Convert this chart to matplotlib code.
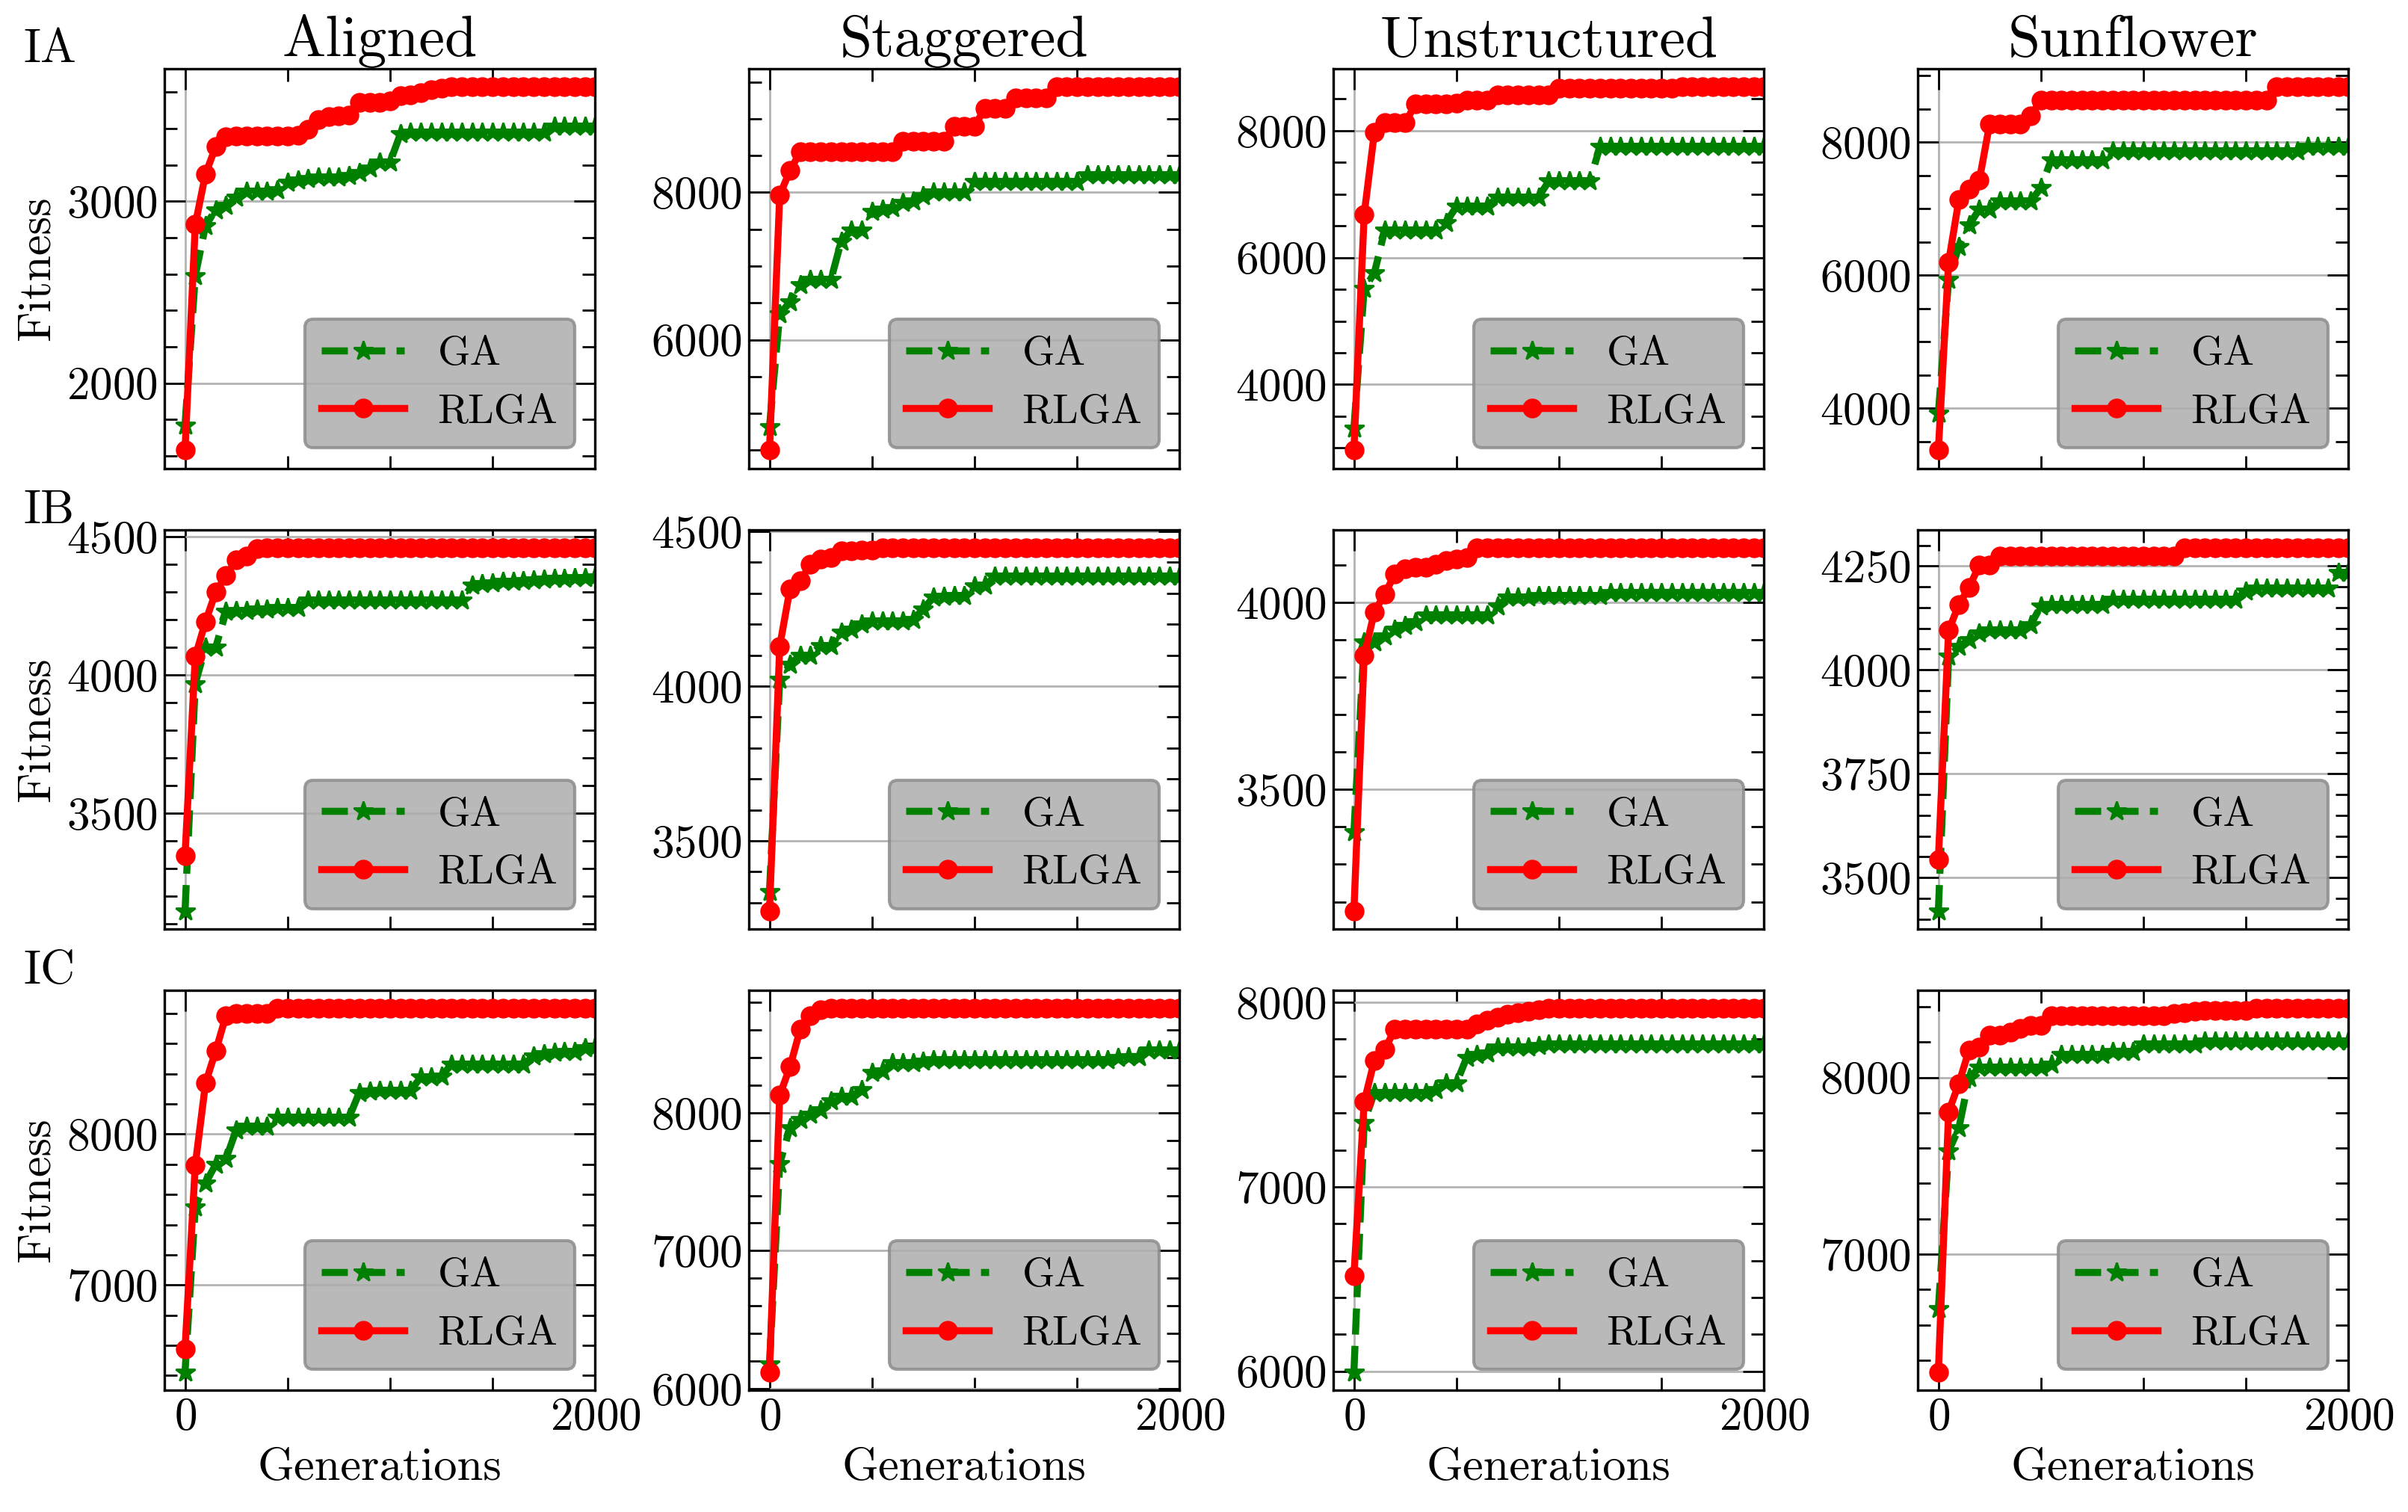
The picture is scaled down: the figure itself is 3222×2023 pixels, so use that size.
import matplotlib
matplotlib.use('Agg')
import matplotlib.pyplot as plt
from matplotlib.ticker import MultipleLocator, MaxNLocator, AutoMinorLocator
import numpy as np

# Computer Modern look (matplotlib ships cmr10)
plt.rcParams['font.family'] = 'serif'
plt.rcParams['font.serif'] = ['cmr10']
plt.rcParams['mathtext.fontset'] = 'cm'
plt.rcParams['axes.formatter.use_mathtext'] = True

# generations at which values were read (one marker every 50 generations)
gens = np.arange(0, 2001, 50)

rows = ['IA', 'IB', 'IC']
cols = ['Aligned', 'Staggered', 'Unstructured', 'Sunflower']

# ---- IA ----
ia_aligned_ga = [1770, 2590, 2867, 2952, 2975, 3020, 3054, 3054, 3054, 3063, 3105, 3114, 3126, 3131,
                 3131, 3131, 3140, 3156, 3182, 3216, 3216, 3369, 3378, 3378, 3378, 3378, 3378, 3378,
                 3378, 3378, 3378, 3378, 3378, 3378, 3378, 3378, 3411, 3411, 3411, 3411, 3411]
ia_aligned_rlga = [1631, 2872, 3150, 3300, 3355, 3360, 3360, 3360, 3360, 3360, 3360, 3362, 3395, 3450,
                   3465, 3470, 3475, 3545, 3545, 3545, 3550, 3580, 3585, 3595, 3615, 3620, 3628, 3628,
                   3628, 3628, 3628, 3628, 3628, 3628, 3628, 3628, 3628, 3628, 3628, 3628, 3628]
ia_staggered_ga = [4818, 6349, 6512, 6746, 6818, 6818, 6818, 7340, 7485, 7485, 7737, 7773, 7791, 7863,
                   7881, 7953, 8000, 8000, 8000, 8000, 8151, 8151, 8151, 8151, 8151, 8151, 8151, 8151,
                   8151, 8151, 8151, 8241, 8241, 8241, 8241, 8241, 8241, 8241, 8241, 8241, 8241]
ia_staggered_rlga = [4500, 7964, 8296, 8548, 8548, 8548, 8548, 8548, 8548, 8548, 8548, 8548, 8548, 8692,
                     8692, 8692, 8692, 8692, 8897, 8897, 8897, 9142, 9142, 9142, 9287, 9287, 9287, 9287,
                     9431, 9431, 9431, 9431, 9431, 9431, 9431, 9431, 9431, 9431, 9431, 9431, 9431]
ia_unstructured_ga = [3309, 5508, 5759, 6430, 6430, 6430, 6430, 6430, 6430, 6555, 6806, 6806, 6806, 6806,
                      6953, 6953, 6953, 6953, 6953, 7204, 7204, 7204, 7204, 7204, 7749, 7749, 7749, 7749,
                      7749, 7749, 7749, 7749, 7749, 7749, 7749, 7749, 7749, 7749, 7749, 7749, 7749]
ia_unstructured_rlga = [2962, 6681, 7979, 8126, 8126, 8126, 8419, 8419, 8419, 8419, 8440, 8482, 8482, 8482,
                        8565, 8565, 8565, 8565, 8565, 8565, 8670, 8670, 8670, 8670, 8670, 8670, 8670, 8670,
                        8670, 8670, 8670, 8670, 8690, 8690, 8690, 8690, 8690, 8690, 8690, 8690, 8690]
ia_sunflower_ga = [3920, 5936, 6435, 6754, 6994, 6994, 7114, 7114, 7114, 7114, 7313, 7733, 7733, 7733,
                   7733, 7733, 7733, 7872, 7872, 7872, 7872, 7872, 7872, 7872, 7872, 7872, 7872, 7872,
                   7872, 7872, 7872, 7872, 7872, 7872, 7872, 7872, 7932, 7932, 7932, 7932, 7932]
ia_sunflower_rlga = [3369, 6196, 7134, 7293, 7433, 8271, 8271, 8271, 8271, 8391, 8631, 8631, 8631, 8631,
                     8631, 8631, 8631, 8631, 8631, 8631, 8631, 8631, 8631, 8631, 8631, 8631, 8631, 8631,
                     8631, 8631, 8631, 8631, 8631, 8830, 8830, 8830, 8830, 8830, 8830, 8830, 8830]

# ---- IB ----
ib_aligned_ga = [3147, 3970, 4102, 4102, 4230, 4235, 4235, 4240, 4240, 4245, 4245, 4245, 4271, 4271,
                 4271, 4271, 4271, 4271, 4271, 4271, 4271, 4271, 4271, 4271, 4271, 4271, 4271, 4271,
                 4326, 4330, 4333, 4338, 4338, 4343, 4345, 4348, 4350, 4351, 4352, 4353, 4355]
ib_aligned_rlga = [3348, 4068, 4194, 4302, 4360, 4418, 4431, 4458, 4461, 4461, 4461, 4461, 4461, 4461,
                   4461, 4461, 4461, 4461, 4461, 4461, 4461, 4461, 4461, 4461, 4461, 4461, 4461, 4461,
                   4461, 4461, 4461, 4461, 4461, 4461, 4461, 4461, 4461, 4461, 4461, 4461, 4461]
ib_staggered_ga = [3336, 4022, 4070, 4100, 4100, 4131, 4131, 4175, 4183, 4201, 4210, 4210, 4210, 4210,
                   4215, 4249, 4288, 4290, 4293, 4293, 4323, 4325, 4354, 4354, 4354, 4354, 4354, 4354,
                   4354, 4354, 4354, 4354, 4354, 4354, 4354, 4354, 4354, 4354, 4354, 4354, 4354]
ib_staggered_rlga = [3273, 4129, 4314, 4341, 4393, 4410, 4415, 4437, 4437, 4439, 4440, 4447, 4447, 4447,
                     4447, 4447, 4447, 4447, 4447, 4447, 4447, 4447, 4447, 4447, 4447, 4447, 4447, 4447,
                     4447, 4447, 4447, 4447, 4447, 4447, 4447, 4447, 4447, 4447, 4447, 4447, 4447]
ib_unstructured_ga = [3386, 3895, 3895, 3910, 3928, 3939, 3949, 3967, 3967, 3967, 3967, 3967, 3967, 3967,
                      3990, 4014, 4014, 4014, 4018, 4018, 4018, 4018, 4018, 4018, 4018, 4027, 4027, 4027,
                      4027, 4027, 4027, 4027, 4027, 4027, 4027, 4027, 4027, 4027, 4027, 4027, 4027]
ib_unstructured_rlga = [3175, 3858, 3975, 4022, 4076, 4090, 4094, 4094, 4101, 4112, 4116, 4119, 4146, 4146,
                        4146, 4146, 4146, 4146, 4146, 4146, 4146, 4146, 4146, 4146, 4146, 4146, 4146, 4146,
                        4146, 4146, 4146, 4146, 4146, 4146, 4146, 4146, 4146, 4146, 4146, 4146, 4146]
ib_sunflower_ga = [3419, 4033, 4056, 4072, 4089, 4095, 4095, 4095, 4095, 4108, 4154, 4157, 4157, 4157,
                   4157, 4157, 4157, 4170, 4170, 4170, 4170, 4170, 4170, 4170, 4170, 4170, 4170, 4170,
                   4170, 4170, 4190, 4197, 4197, 4197, 4197, 4197, 4197, 4197, 4197, 4234, 4234]
ib_sunflower_rlga = [3543, 4095, 4157, 4199, 4252, 4252, 4274, 4274, 4274, 4274, 4274, 4274, 4274, 4274,
                     4274, 4274, 4274, 4274, 4274, 4274, 4274, 4274, 4274, 4274, 4294, 4294, 4294, 4294,
                     4294, 4294, 4294, 4294, 4294, 4294, 4294, 4294, 4294, 4294, 4294, 4294, 4294]

# ---- IC ----
ic_aligned_ga = [6424, 7517, 7676, 7800, 7839, 8027, 8050, 8050, 8050, 8111, 8111, 8111, 8111, 8111,
                 8111, 8111, 8111, 8277, 8283, 8288, 8288, 8288, 8288, 8379, 8379, 8383, 8465, 8465,
                 8465, 8465, 8465, 8465, 8465, 8465, 8515, 8533, 8540, 8549, 8549, 8571, 8578]
ic_aligned_rlga = [6576, 7796, 8338, 8553, 8787, 8798, 8798, 8798, 8798, 8832, 8832, 8832, 8832, 8832,
                   8832, 8832, 8832, 8832, 8832, 8832, 8832, 8832, 8832, 8832, 8832, 8832, 8832, 8832,
                   8832, 8832, 8832, 8832, 8832, 8832, 8832, 8832, 8832, 8832, 8832, 8832, 8832]
ic_staggered_ga = [6176, 7631, 7892, 7951, 7990, 8020, 8088, 8118, 8118, 8167, 8294, 8304, 8363, 8363,
                   8363, 8373, 8382, 8382, 8382, 8382, 8382, 8382, 8382, 8382, 8382, 8382, 8382, 8382,
                   8382, 8382, 8382, 8382, 8382, 8382, 8400, 8408, 8408, 8455, 8455, 8455, 8455]
ic_staggered_rlga = [6121, 8127, 8333, 8604, 8706, 8749, 8755, 8755, 8755, 8755, 8755, 8755, 8755, 8755,
                     8755, 8755, 8755, 8755, 8755, 8755, 8755, 8755, 8755, 8755, 8755, 8755, 8755, 8755,
                     8755, 8755, 8755, 8755, 8755, 8755, 8755, 8755, 8755, 8755, 8755, 8755, 8755]
ic_unstructured_ga = [5996, 7350, 7511, 7511, 7511, 7511, 7511, 7511, 7526, 7562, 7562, 7701, 7715, 7723,
                      7759, 7759, 7759, 7759, 7766, 7774, 7774, 7774, 7774, 7774, 7774, 7774, 7774, 7774,
                      7774, 7774, 7774, 7774, 7774, 7774, 7774, 7774, 7774, 7774, 7774, 7774, 7774]
ic_unstructured_rlga = [6518, 7460, 7686, 7745, 7854, 7854, 7854, 7854, 7854, 7854, 7854, 7854, 7883, 7905,
                        7920, 7934, 7942, 7952, 7961, 7966, 7966, 7966, 7966, 7966, 7966, 7966, 7966, 7966,
                        7966, 7966, 7966, 7966, 7966, 7966, 7966, 7966, 7966, 7966, 7966, 7966, 7966]
ic_sunflower_ga = [6690, 7583, 7713, 7998, 8056, 8056, 8056, 8056, 8056, 8056, 8056, 8072, 8130, 8130,
                   8130, 8130, 8130, 8148, 8148, 8148, 8189, 8189, 8189, 8189, 8189, 8189, 8206, 8206,
                   8206, 8206, 8206, 8206, 8206, 8206, 8206, 8206, 8206, 8206, 8206, 8206, 8206]
ic_sunflower_rlga = [6334, 7805, 7965, 8156, 8171, 8240, 8240, 8255, 8278, 8293, 8293, 8347, 8347, 8347,
                     8347, 8347, 8347, 8347, 8347, 8347, 8347, 8347, 8347, 8362, 8365, 8374, 8377, 8380,
                     8380, 8380, 8380, 8389, 8389, 8389, 8389, 8389, 8389, 8389, 8389, 8389, 8389]

series = [
    [(ia_aligned_ga, ia_aligned_rlga), (ia_staggered_ga, ia_staggered_rlga),
     (ia_unstructured_ga, ia_unstructured_rlga), (ia_sunflower_ga, ia_sunflower_rlga)],
    [(ib_aligned_ga, ib_aligned_rlga), (ib_staggered_ga, ib_staggered_rlga),
     (ib_unstructured_ga, ib_unstructured_rlga), (ib_sunflower_ga, ib_sunflower_rlga)],
    [(ic_aligned_ga, ic_aligned_rlga), (ic_staggered_ga, ic_staggered_rlga),
     (ic_unstructured_ga, ic_unstructured_rlga), (ic_sunflower_ga, ic_sunflower_rlga)],
]

fig, axes = plt.subplots(3, 4, figsize=(16.115, 10.115), dpi=200, sharex=True)
fig.subplots_adjust(left=0.0683, right=0.975, top=0.9545, bottom=0.0806,
                    wspace=0.357, hspace=0.153)

for i in range(3):
    for j in range(4):
        ax = axes[i, j]
        ga, rlga = series[i][j]
        ax.plot(gens, ga, color='green', ls='--', marker='*', lw=3.4, ms=9.5, label='GA')
        ax.plot(gens, rlga, color='red', ls='-', marker='o', lw=3.4, ms=8.5, label='RLGA')

        ax.set_xlim(-100, 2000)
        ax.xaxis.set_major_locator(MultipleLocator(2000))
        ax.xaxis.set_minor_locator(MultipleLocator(500))
        ax.yaxis.set_major_locator(MaxNLocator(nbins=4, steps=[1, 2, 2.5, 5, 10]))
        ax.yaxis.set_minor_locator(AutoMinorLocator())

        ax.grid(True, which='major', color='0.7', lw=1)
        ax.tick_params(which='both', direction='in', top=True, right=True,
                       labelsize=22, width=1)
        ax.tick_params(which='major', length=10)
        ax.tick_params(which='minor', length=6)
        for s in ax.spines.values():
            s.set_linewidth(1.2)

        leg = ax.legend(loc='lower right', fontsize=20, facecolor='0.68', edgecolor='0.55',
                        framealpha=0.85, fancybox=True)
        leg.get_frame().set_linewidth(1.5)

        if i == 0:
            ax.set_title(cols[j], fontsize=28)
        if j == 0:
            ax.set_ylabel('Fitness', fontsize=22.5)
            ax.text(-0.328, 1.017, rows[i], transform=ax.transAxes, fontsize=23,
                    ha='left', va='baseline')
        if i == 2:
            ax.set_xlabel('Generations', fontsize=22.5)

fig.savefig('out.png', dpi=200)
